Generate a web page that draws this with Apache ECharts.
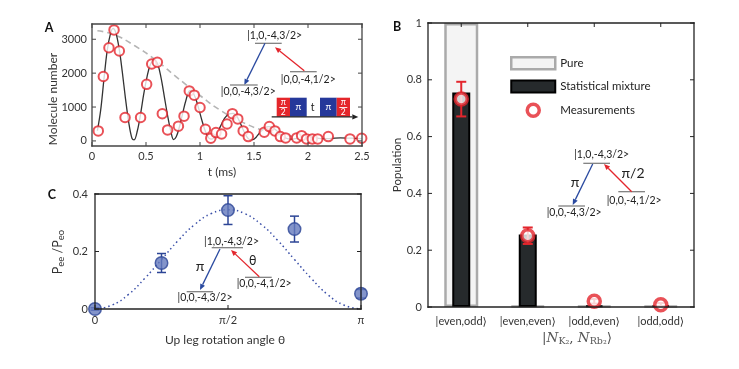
<!DOCTYPE html>
<html><head><meta charset="utf-8">
<script src="https://cdn.jsdelivr.net/npm/echarts@6/dist/echarts.min.js"></script>
<style>html,body{margin:0;padding:0;background:#fff}#c{width:739px;height:369px}</style>
</head><body><div id="c"></div>
<script>
// ---------- Panel A data ----------
const aT = [0.058,0.105,0.157,0.204,0.253,0.306,0.45,0.506,0.553,0.605,0.651,0.70,0.80,0.852,0.901,0.947,1.0,1.05,1.10,1.148,1.2,1.25,1.30,1.35,1.40,1.447,1.595,1.642,1.694,1.744,1.793,1.895,1.941,1.987,2.04,2.09,2.188,2.389,2.497];
const aN = [295,1900,2750,3275,2655,690,690,1670,2270,2320,800,325,435,730,1475,1350,985,345,80,245,205,500,805,650,295,127,257,422,295,127,88,88,156,59,59,59,127,59,80];
const fitT = [0.05,0.08,0.11,0.14,0.17,0.195,0.22,0.25,0.28,0.31,0.34,0.37,0.39,0.42,0.45,0.48,0.51,0.54,0.575,0.61,0.64,0.67,0.70,0.73,0.755,0.78,0.81,0.84,0.87,0.905,0.93,0.96,0.99,1.02,1.05,1.08,1.11,1.14,1.17,1.20,1.23,1.27,1.31,1.34,1.37,1.40,1.43,1.46,1.49,1.52,1.55,1.59,1.63,1.67,1.71,1.75,1.79,1.84,1.89,1.95,2.0,2.05,2.12,2.2,2.3,2.4,2.5];
const fitN = [300,900,1800,2650,3150,3320,3200,2750,2050,1250,550,80,30,300,800,1400,1900,2250,2390,2250,1850,1300,750,280,40,120,420,820,1200,1480,1450,1250,930,580,280,90,50,130,300,500,680,800,815,730,550,330,140,40,40,110,230,360,420,400,300,180,90,50,70,110,120,100,70,70,90,80,70];
const envT = [0.05,0.2,0.4,0.6,0.8,1.0,1.2,1.4,1.6,1.8,1.9];
const envN = [3250,3140,2800,2360,1840,1340,880,540,300,160,120];
const aXTicks = [0,0.5,1,1.5,2,2.5];
const aYTicks = [0,1000,2000,3000];

// ---------- Panel C data ----------
const thetaPi = [0,0.25,0.5,0.75,1];
const ratio = [0.0,0.16,0.344,0.278,0.053];
const ratioErr = [0.004,0.033,0.05,0.045,0.015];
const curveThetaPi = [0,0.0625,0.125,0.1875,0.25,0.3125,0.375,0.4375,0.5,0.5625,0.625,0.6875,0.75,0.8125,0.875,0.9375,1];
const curveRatio = [0,0.013,0.05,0.107,0.172,0.238,0.294,0.332,0.345,0.332,0.294,0.238,0.172,0.107,0.05,0.013,0];
const cXTicks = [0,0.5,1];
const cXLabels = ['0','π/2','π'];
const cYTicks = [0,0.2,0.4];

// ---------- Panel B data ----------
const categories = ['|even,odd⟩','|even,even⟩','|odd,even⟩','|odd,odd⟩'];
const pure = [1,0.004,0.004,0.004];
const mixture = [0.755,0.255,0.005,0.005];
const meas = [0.732,0.251,0.02,0.008];
const measErr = [0.061,0.029,0.008,0.006];
const bYTicks = [0,0.2,0.4,0.6,0.8,1];

// ---------- layout ----------
const GA = {left:92, top:24, width:270, height:122};
const GC = {left:95, top:194, width:266, height:115};
const GB = {left:428, top:23, width:266, height:284};
const A_X = [0,2.5], A_Y = [-150,3450], C_X = [0,1], C_Y = [0,0.4], B_Y = [0,1];

const FONT = 'Lato, "Open Sans", "DejaVu Sans", sans-serif';
const SERIF = '"DejaVu Serif", "Liberation Serif", serif';
const RED = '#e3262d', BLUE = '#2c4596';

function zip(a,b){return a.map((v,i)=>[v,b[i]]);}
function errData(xs, ys, es){return xs.map((x,i)=>[x, ys[i]-es[i], ys[i]+es[i]]);}
function errRender(color, cap, lw){
  return function(params, api){
    const x = api.value(0), lo = api.value(1), hi = api.value(2);
    const p1 = api.coord([x, lo]), p2 = api.coord([x, hi]);
    const st = {stroke: color, lineWidth: lw};
    return {type:'group', children:[
      {type:'line', shape:{x1:p1[0],y1:p1[1],x2:p2[0],y2:p2[1]}, style:st},
      {type:'line', shape:{x1:p1[0]-cap,y1:p1[1],x2:p1[0]+cap,y2:p1[1]}, style:st},
      {type:'line', shape:{x1:p2[0]-cap,y1:p2[1],x2:p2[0]+cap,y2:p2[1]}, style:st}
    ]};
  };
}

// ---------- annotation helpers ----------
function txt(x,y,s,o){o=o||{};return {type:'text', x:x, y:y, rotation:o.rot||0, z:50, style:{text:s, fontSize:o.size||10.5, fontFamily:o.family||FONT, fontWeight:o.weight||'normal', fill:o.color||'#222', align:o.align||'center', verticalAlign:'middle', rich:o.rich}};}
function ln(x1,y1,x2,y2,c,w){return {type:'line', z:50, shape:{x1:x1,y1:y1,x2:x2,y2:y2}, style:{stroke:c||'#777', lineWidth:w||1.2}};}
function arrow(x1,y1,x2,y2,c){
  const dx=x2-x1, dy=y2-y1, L=Math.hypot(dx,dy), ux=dx/L, uy=dy/L, h=6, w=2.6;
  const bx=x2-ux*h, by=y2-uy*h;
  return [ln(x1,y1,bx,by,c,1.3), {type:'polygon', z:50, shape:{points:[[x2,y2],[bx-uy*w,by+ux*w],[bx+uy*w,by-ux*w]]}, style:{fill:c}}];
}
function rect(x1,y1,x2,y2,c){return {type:'rect', z:49, shape:{x:x1,y:y1,width:x2-x1,height:y2-y1}, style:{fill:c}};}
function halfPi(cx, top){
  return [txt(cx, top+5, 'π', {size:8.5, color:'#fff'}), ln(cx-4, top+9.8, cx+4, top+9.8, '#fff', 0.9), txt(cx, top+14.5, '2', {size:8.5, color:'#fff'})];
}
// box frame with inward ticks (thin filled rectangles on their own layer); ticks as fractions of the axis span
function bar(x,y,w,h,c){return {type:'rect', zlevel:1, z:100, silent:true, shape:{x:x,y:y,width:w,height:h}, style:{fill:c}};}
function frameBox(g, color, fxB, fxT, fyL, fyR){
  const L=g.left, T=g.top, R=g.left+g.width, B=g.top+g.height, k=4, t=1.3, h=t/2, out=[];
  out.push(bar(L-h,T-h,g.width+t,t,color), bar(L-h,B-h,g.width+t,t,color), bar(L-h,T-h,t,g.height+t,color), bar(R-h,T-h,t,g.height+t,color));
  fxB.forEach(f=>{const x=L+f*g.width; out.push(bar(x-0.5,B-k,1,k,color));});
  fxT.forEach(f=>{const x=L+f*g.width; out.push(bar(x-0.5,T,1,k,color));});
  fyL.forEach(f=>{const y=B-f*g.height; out.push(bar(L,y-0.5,k,1,color));});
  fyR.forEach(f=>{const y=B-f*g.height; out.push(bar(R-k,y-0.5,k,1,color));});
  return out;
}
const frac = (v, r) => (v - r[0]) / (r[1] - r[0]);

const G = [];
// Panel letters
G.push(txt(49,28,'A',{size:12.5,weight:'bold',color:'#111'}));
G.push(txt(397,27,'B',{size:12.5,weight:'bold',color:'#111'}));
G.push(txt(52,195,'C',{size:12.5,weight:'bold',color:'#111'}));
// Axis titles
G.push(txt(53,99,'Molecule number',{size:12,rot:Math.PI/2,color:'#333'}));
G.push(txt(222,172,'t (ms)',{size:12,color:'#333'}));
G.push(txt(397,165,'Population',{size:11.5,rot:Math.PI/2,color:'#333'}));
G.push(txt(225,340,'Up leg rotation angle θ',{size:12,color:'#333'}));
G.push(txt(58,252,'{a|P}{s|ee}{a| /P}{s|eo}',{rot:Math.PI/2,color:'#333',rich:{a:{fontSize:12.5,lineHeight:16,fontFamily:FONT,fill:'#333'},s:{fontSize:9.5,lineHeight:9,verticalAlign:'bottom',fontFamily:FONT,fill:'#333'}}}));
G.push(txt(577,338,'{r|\u007c}{i|N}{s|K₂}{r|, }{i|N}{s|Rb₂}{r|⟩}',{color:'#555',rich:{r:{fontSize:13.5,lineHeight:17,fontFamily:SERIF,fill:'#555'},i:{fontSize:13.5,lineHeight:17,fontFamily:SERIF,fontStyle:'italic',fill:'#555'},s:{fontSize:9.5,lineHeight:9,verticalAlign:'bottom',fontFamily:SERIF,fill:'#555'}}}));

// Panel A energy diagram
G.push(txt(274.7,35.7,'|1,0,-4,3/2>'));
G.push(ln(255,43.3,281.7,43.3));
G.push(...arrow(265,43.3,244.3,85,'#2a4aa0'));
G.push(ln(230,85,257.7,85));
G.push(txt(248.3,91.7,'|0,0,-4,3/2>'));
G.push(ln(290,71.7,316.7,71.7));
G.push(txt(308.3,80,'|0,0,-4,1/2>'));
G.push(...arrow(304.3,70.7,275,47.3,RED));
// Pulse sequence
G.push(rect(276.7,97.7,290,116.7,'#e4262b'));
G.push(...halfPi(283.3,97.7));
G.push(rect(290,97.7,306.7,116.7,'#25389a'));
G.push(txt(298.3,107.2,'π',{size:9.5,color:'#fff'}));
G.push(txt(312.7,107.5,'t',{size:10.5,color:'#222'}));
G.push(rect(320,97.7,336.7,116.7,'#25389a'));
G.push(txt(328.3,107.2,'π',{size:9.5,color:'#fff'}));
G.push(rect(336.7,97.7,350,116.7,'#e4262b'));
G.push(...halfPi(343.3,97.7));
G.push(...arrow(271.7,116.9,358.3,116.9,'#222'));

// Panel B energy diagram
G.push(txt(601.7,155,'|1,0,-4,3/2>'));
G.push(ln(583.3,163.3,610,163.3));
G.push(txt(633,173.3,'π/2',{size:14}));
G.push(txt(575,182.7,'π',{size:14}));
G.push(...arrow(592.7,164,572.7,205,'#2a4aa0'));
G.push(ln(558.3,206,585,206));
G.push(txt(574.2,212.7,'|0,0,-4,3/2>'));
G.push(ln(618.3,191.7,645,191.7));
G.push(txt(634.2,200.7,'|0,0,-4,1/2>'));
G.push(...arrow(631.7,191.7,604,164,RED));

// Panel C energy diagram
G.push(txt(231.5,241.7,'|1,0,-4,3/2>'));
G.push(ln(211.7,247.7,243,247.7));
G.push(...arrow(220,249,200,290,'#2a4aa0'));
G.push(txt(200,266.7,'π',{size:14}));
G.push(ln(186.7,291.7,213,291.7));
G.push(txt(205,297.3,'|0,0,-4,3/2>'));
G.push(ln(245,277.3,271.7,277.3));
G.push(txt(264.2,284,'|0,0,-4,1/2>'));
G.push(...arrow(259.3,276.7,231,250,RED));
G.push(txt(252.7,261,'θ',{size:12.5}));

// Frames (after everything else, on their own layer)
G.push(...frameBox(GA, '#444', aXTicks.map(v=>frac(v,A_X)), aXTicks.map(v=>frac(v,A_X)), aYTicks.map(v=>frac(v,A_Y)), aYTicks.map(v=>frac(v,A_Y))));
G.push(...frameBox(GC, '#222', cXTicks.map(v=>frac(v,C_X)), [], cYTicks.map(v=>frac(v,C_Y)), cYTicks.map(v=>frac(v,C_Y))));
G.push(...frameBox(GB, '#222', [], categories.map((c,i)=>(i+0.5)/categories.length), bYTicks.map(v=>frac(v,B_Y)), bYTicks.map(v=>frac(v,B_Y))));

const axLine = {show:false};
const noTick = {show:false};
const lbl = {color:'#333', fontSize:11, fontFamily:FONT};
const noLbl = {show:false};

const option = {
  animation:false,
  backgroundColor:'#fff',
  grid:[GA, GC, GB],
  legend:{
    orient:'vertical', left:510, top:56, padding:0, itemWidth:44, itemHeight:12, itemGap:9, itemTextGap:6,
    textStyle:{fontSize:11.5, fontFamily:FONT, color:'#222'},
    selectedMode:false,
    data:[
      {name:'Pure', icon:'rect', itemStyle:{color:'#f4f4f4', borderColor:'#aaa', borderWidth:2.5}},
      {name:'Statistical mixture', icon:'rect', itemStyle:{color:'#262a2c', borderColor:'#000', borderWidth:2}},
      {name:'Measurements', icon:'circle', itemStyle:{color:'#fff', borderColor:RED, borderWidth:3.5}}
    ]
  },
  xAxis:[
    {gridIndex:0, type:'value', min:A_X[0], max:A_X[1], interval:0.5, axisLine:axLine, axisTick:noTick, splitLine:{show:false}, axisLabel:Object.assign({margin:5}, lbl)},
    {gridIndex:1, type:'value', min:C_X[0], max:C_X[1], axisLine:axLine, axisTick:noTick, splitLine:{show:false},
      axisLabel:Object.assign({margin:6, customValues:cXTicks, formatter:v=>cXLabels[cXTicks.indexOf(v)]}, lbl)},
    {gridIndex:2, type:'category', data:categories, axisLine:axLine, axisTick:noTick, axisLabel:Object.assign({margin:9, interval:0}, lbl)},
    {gridIndex:2, type:'category', data:categories, axisLine:axLine, axisTick:noTick, axisLabel:noLbl}
  ],
  yAxis:[
    {gridIndex:0, type:'value', min:A_Y[0], max:A_Y[1], axisLine:axLine, axisTick:noTick, splitLine:{show:false}, axisLabel:Object.assign({margin:5, customValues:aYTicks, formatter:v=>String(v)}, lbl)},
    {gridIndex:1, type:'value', min:C_Y[0], max:C_Y[1], interval:0.2, axisLine:axLine, axisTick:noTick, splitLine:{show:false}, axisLabel:Object.assign({margin:7}, lbl)},
    {gridIndex:2, type:'value', min:B_Y[0], max:B_Y[1], interval:0.2, axisLine:axLine, axisTick:noTick, splitLine:{show:false}, axisLabel:Object.assign({margin:6}, lbl)}
  ],
  series:[
    // Panel A
    {type:'line', name:'envelope', xAxisIndex:0, yAxisIndex:0, data:zip(envT,envN), smooth:true, symbol:'none', z:2,
      lineStyle:{color:'#b5b5b5', width:1.6, type:[6,4]}},
    {type:'line', name:'fit', xAxisIndex:0, yAxisIndex:0, data:zip(fitT,fitN), smooth:0.35, symbol:'none', z:3,
      lineStyle:{color:'#333', width:1.3}},
    {type:'scatter', name:'data', xAxisIndex:0, yAxisIndex:0, data:zip(aT,aN), symbol:'circle', symbolSize:9.5, z:4,
      itemStyle:{color:'#fff', borderColor:RED, borderWidth:2}},
    // Panel C
    {type:'line', name:'theory', xAxisIndex:1, yAxisIndex:1, data:zip(curveThetaPi,curveRatio), smooth:true, symbol:'none', z:2,
      lineStyle:{color:'#3a4fa8', width:1.5, type:[1.5,3]}},
    {type:'custom', name:'cerr', xAxisIndex:1, yAxisIndex:1, data:errData(thetaPi,ratio,ratioErr), encode:{x:0, y:[1,2]},
      renderItem:errRender(BLUE,4.5,1.5), z:3},
    {type:'scatter', name:'ratio', xAxisIndex:1, yAxisIndex:1, data:zip(thetaPi,ratio), symbol:'circle', symbolSize:12.5, z:4,
      itemStyle:{color:'#6479bd', borderColor:BLUE, borderWidth:1.5}},
    // Panel B
    {type:'bar', name:'Pure', xAxisIndex:3, yAxisIndex:2, data:pure, barWidth:34, z:2,
      itemStyle:{color:'#f4f4f4', borderColor:'#aaa', borderWidth:2.5}},
    {type:'bar', name:'Statistical mixture', xAxisIndex:2, yAxisIndex:2, data:mixture, barWidth:18, z:3,
      itemStyle:{color:'#262a2c', borderColor:'#000', borderWidth:2}},
    {type:'custom', name:'berr', xAxisIndex:2, yAxisIndex:2, data:errData([0,1,2,3],meas,measErr), encode:{x:0, y:[1,2]},
      renderItem:errRender(RED,5,2), z:5},
    {type:'scatter', name:'Measurements', xAxisIndex:2, yAxisIndex:2, data:meas, symbol:'circle', symbolSize:12, z:6,
      itemStyle:{color:'#fff', borderColor:RED, borderWidth:3.5}}
  ],
  graphic:{elements:G}
};
const chart = echarts.init(document.getElementById('c'), null, {renderer:'canvas'});
chart.setOption(option);
</script></body></html>
